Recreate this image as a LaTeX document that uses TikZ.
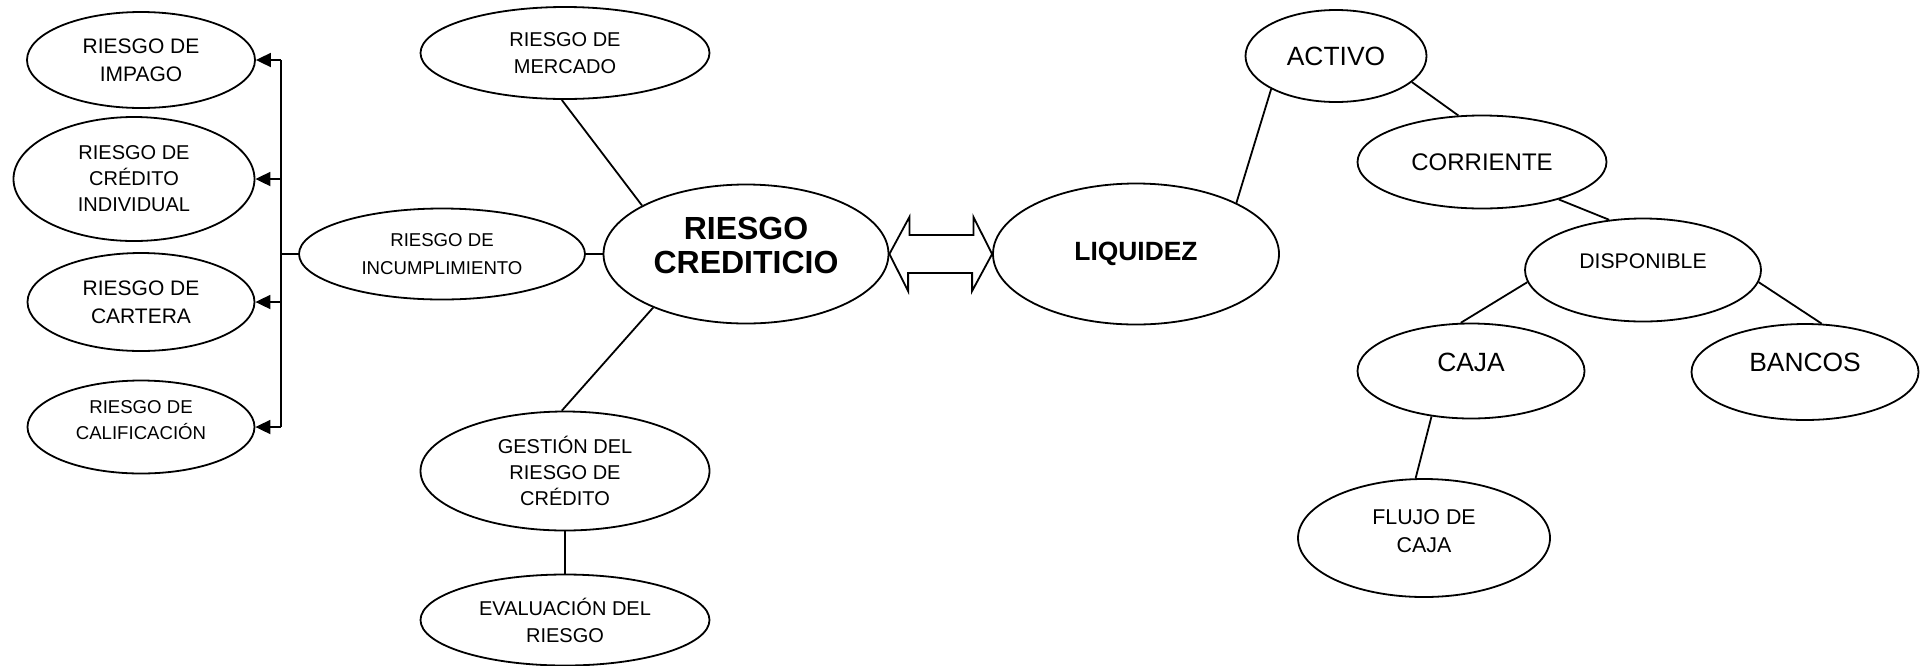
\documentclass[tikz,border=0pt]{standalone}
\usepackage{fontspec}
\setmainfont{Liberation Sans}
\usetikzlibrary{calc,arrows.meta,shapes.geometric}

\tikzset{
  oval/.style={ellipse, draw, line width=0.9pt, inner sep=0pt, align=center},
  link/.style={line width=0.9pt},
  arr/.style={line width=0.9pt, -{Triangle[length=7.5pt,width=7pt]}},
  lift/.style={text depth=#1}
}

\begin{document}
\begin{tikzpicture}[x=0.5pt, y=-0.5pt]
    \useasboundingbox (0,0) rectangle (1925,665);

    % Left branch
    \node[oval, minimum width=114pt, minimum height=48pt, font=\fontsize{10.5}{14}\selectfont] (impago) at (141,60) {RIESGO DE\\IMPAGO};
    \node[oval, minimum width=120.5pt, minimum height=62pt, font=\fontsize{10}{13}\selectfont] (credito) at (134,179) {RIESGO DE\\CRÉDITO\\INDIVIDUAL};
    \node[oval, minimum width=113.5pt, minimum height=49pt, font=\fontsize{10.5}{14}\selectfont] (cartera) at (141,302) {RIESGO DE\\CARTERA};
    \node[oval, minimum width=113.5pt, minimum height=46.5pt, lift=7pt, font=\fontsize{9.3}{13}\selectfont] (calif) at (141,427) {RIESGO DE\\CALIFICACIÓN};
    \node[oval, minimum width=143pt, minimum height=45.5pt, font=\fontsize{9.3}{14}\selectfont] (incumpl) at (442,254) {RIESGO DE\\INCUMPLIMIENTO};
    \coordinate (bus) at (281,0);

    % Centre
    \node[oval, minimum width=142.5pt, minimum height=69.5pt, lift=9pt, font=\fontsize{16}{17}\selectfont\bfseries] (crediticio) at (746,254) {RIESGO\\CREDITICIO};
    \node[oval, minimum width=144.5pt, minimum height=46pt, font=\fontsize{10}{13.5}\selectfont] (mercado) at (565,53) {RIESGO DE\\MERCADO};
    \node[oval, minimum width=144.5pt, minimum height=59.5pt, font=\fontsize{10}{13}\selectfont] (gestion) at (565,471) {GESTIÓN DEL\\RIESGO DE\\CRÉDITO};
    \node[oval, minimum width=144.5pt, minimum height=45.5pt, font=\fontsize{10}{13.5}\selectfont] (evaluacion) at (565,620) {EVALUACIÓN DEL\\RIESGO};
    \node[oval, minimum width=143pt, minimum height=70.5pt, font=\fontsize{13.2}{15}\selectfont\bfseries] (liquidez) at (1136,254) {LIQUIDEZ};

    % Right branch
    \node[oval, minimum width=90.5pt, minimum height=46pt, font=\fontsize{13.2}{15}\selectfont] (activo) at (1336,56) {ACTIVO};
    \node[oval, minimum width=124.5pt, minimum height=46.5pt, font=\fontsize{12}{14}\selectfont] (corriente) at (1482,162) {CORRIENTE};
    \node[oval, minimum width=118pt, minimum height=51.5pt, lift=9pt, font=\fontsize{10.6}{13}\selectfont] (disponible) at (1643,270) {DISPONIBLE};
    \node[oval, minimum width=113.5pt, minimum height=47.5pt, lift=9pt, font=\fontsize{13.2}{15}\selectfont] (caja) at (1471,371) {CAJA};
    \node[oval, minimum width=113.5pt, minimum height=48pt, lift=10pt, font=\fontsize{13.2}{15}\selectfont] (bancos) at (1805,372) {BANCOS};
    \node[oval, minimum width=126pt, minimum height=59pt, lift=7pt, font=\fontsize{10.7}{14}\selectfont] (flujo) at (1424,538) {FLUJO DE\\CAJA};

    % Arrows to the left
    \draw[link] (bus |- impago.east) -- (bus |- calif.east);
    \foreach \n in {impago,credito,cartera,calif}
      \draw[arr] (bus |- \n.east) -- (\n.east);
    \draw[link] (bus |- incumpl.west) -- (incumpl.west);
    \draw[link] (incumpl.east) -- (crediticio.west);

    % Lines
    \draw[link] (mercado.-94) -- (crediticio.155);
    \draw[link] (crediticio.210) -- (gestion.93);
    \draw[link] (gestion.south) -- (evaluacion.north);
    \draw[link] (liquidez.27) -- (activo.207);
    \draw[link] (activo.341) -- (corriente.117);
    \draw[link] (corriente.-26) -- (disponible.124);
    \draw[link] (disponible.186) -- (caja.102);
    \draw[link] (disponible.-6) -- (bancos.71);
    \draw[link] (caja.229) -- (flujo.98);

    % Double arrow
    \draw[link] (crediticio.east) -- ++(20,-37) -- ++(0,18) -- ++(64,0) -- ++(0,-18)
      -- (liquidez.west) -- ++(-20,37) -- ++(0,-18) -- ++(-64,0) -- ++(0,18) -- cycle;
\end{tikzpicture}
\end{document}
